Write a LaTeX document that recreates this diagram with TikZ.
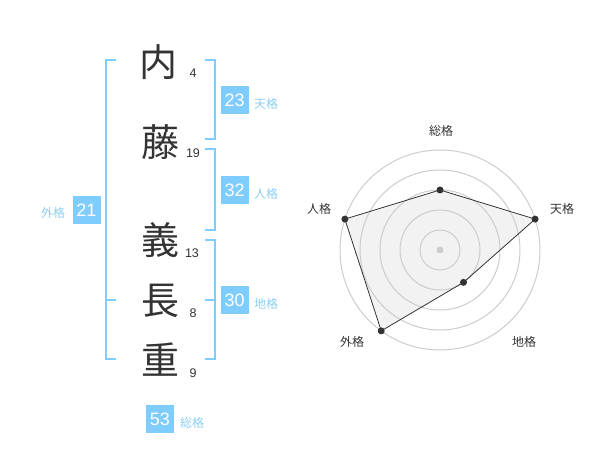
\documentclass[tikz,border=0pt]{standalone}
\usepackage{fontspec}
\setmainfont{Liberation Sans}
\newfontfamily\jpfont{Noto Sans CJK JP}
\usepackage{xcolor}
\usepackage{tikz}

\definecolor{kaku}{HTML}{7FCCFF}
\definecolor{kakutext}{HTML}{8DCEF5}
\definecolor{sumi}{HTML}{333333}
\definecolor{ring}{HTML}{CCCCCC}
\definecolor{area}{HTML}{F2F2F2}

\tikzset{
  moji/.style={text=sumi, inner sep=0, font=\jpfont\fontsize{38}{38}\selectfont},
  kakusu/.style={text=sumi, inner sep=0, font=\fontsize{12.5}{12.5}\selectfont},
  kakubox/.style={fill=kaku, text=white, minimum size=28pt, inner sep=0, font=\fontsize{18}{18}\selectfont},
  kakuname/.style={text=kakutext, inner sep=0, font=\jpfont\fontsize{12}{12}\selectfont},
  bracket/.style={draw=kaku, line width=2pt},
  radarname/.style={text=sumi, inner sep=0, font=\jpfont\fontsize{12}{12}\selectfont},
  radardot/.style={circle, fill=sumi, inner sep=0, minimum size=7pt}
}

\begin{document}
\begin{tikzpicture}[x=1pt, y=-1pt]
                \useasboundingbox (0,0) rectangle (600,470);

                %% name
                \node[moji] (uchi)  at (158,62)  {内};
                \node[moji] (fuji)  at (160,142) {藤};
                \node[moji] (yoshi) at (160,240) {義};
                \node[moji] (naga)  at (160,301) {長};
                \node[moji] (shige) at (160,360) {重};

                \node[kakusu] (uchinum)  at (193,73)  {4};
                \node[kakusu] (fujinum)  at (193,153) {19};
                \node[kakusu] (yoshinum) at (192,253) {13};
                \node[kakusu] (naganum)  at (193,313) {8};
                \node[kakusu] (shigenum) at (193,373) {9};

                %外格
                \draw[bracket] (116,60) -- (106,60) -- (106,359) -- (116,359);
                \draw[bracket] (106,300) -- (116,300);
                \node[kakubox] (gaibox) at (86.5,210) {21};
                \node[kakuname] (gainame) at (53,213) {外格};

                %天格
                \draw[bracket] (205,60) -- (215,60) -- (215,139) -- (205,139);
                \node[kakubox] (tenbox) at (234.7,100) {23};
                \node[kakuname] (tenname) at (266,104) {天格};

                %人格
                \draw[bracket] (205,149) -- (215,149) -- (215,230) -- (205,230);
                \node[kakubox] (jinbox) at (234.7,190) {32};
                \node[kakuname] (jinname) at (266,194) {人格};

                %地格
                \draw[bracket] (205,240) -- (215,240) -- (215,359) -- (205,359);
                \draw[bracket] (205,300) -- (215,300);
                \node[kakubox] (chibox) at (234.7,300) {30};
                \node[kakuname] (chiname) at (266,304) {地格};

                %総格
                \node[kakubox] (soubox) at (160,419) {53};
                \node[kakuname] (souname) at (192,423) {総格};

                %% radar
                \begin{scope}[shift={(440,250)}]
                \coordinate (sou) at (-90:60);
                \coordinate (ten) at (-18:100);
                \coordinate (chi) at (54:40);
                \coordinate (gai) at (126:100);
                \coordinate (jin) at (-162:100);

                \fill[area] (sou) -- (ten) -- (chi) -- (gai) -- (jin) -- cycle;
                \foreach \r in {20,40,60,80,100}
                    \draw[ring, line width=1pt] (0,0) circle (\r);
                \fill[ring] (0,0) circle (3.5);
                \draw[sumi, line width=0.8pt] (sou) -- (ten) -- (chi) -- (gai) -- (jin) -- cycle;

                \foreach \p in {sou,ten,chi,gai,jin}
                    \node[radardot] at (\p) {};
                \end{scope}

                \node[radarname] (souradar) at (441,131) {総格};
                \node[radarname] (tenradar) at (562,209) {天格};
                \node[radarname] (jinradar) at (319,209) {人格};
                \node[radarname] (gairadar) at (352,342) {外格};
                \node[radarname] (chiradar) at (524,342) {地格};

            \end{tikzpicture}
\end{document}
